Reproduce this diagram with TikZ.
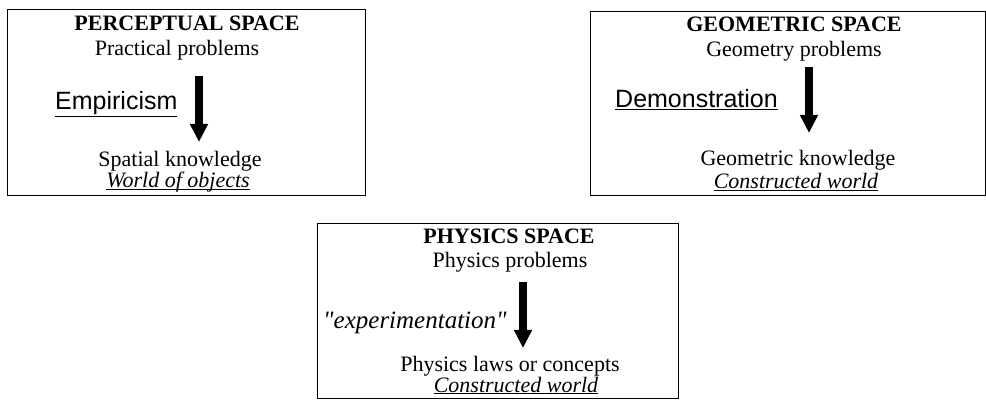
\documentclass[tikz,border=0pt]{standalone}
\usepackage{fontspec}
\setmainfont{Liberation Serif}
\newfontfamily\labelsans{Liberation Sans}
\newfontfamily\plainserif[Ligatures=TeXOff]{Liberation Serif}
\usetikzlibrary{arrows.meta}
\begin{document}
\begin{tikzpicture}[x=1pt,y=-1pt,
  box/.style={draw, line width=1.4pt, inner sep=0pt, anchor=north west},
  ttl/.style={font=\fontsize{22}{24}\selectfont\bfseries, anchor=base, inner sep=0pt},
  body/.style={font=\fontsize{22}{24}\selectfont, anchor=base, inner sep=0pt},
  lab/.style={font=\labelsans\fontsize{25}{27}\selectfont, anchor=base west, inner sep=0pt},
  itlab/.style={font=\plainserif\fontsize{25}{27}\selectfont\itshape, anchor=base west, inner sep=0pt},
  blockarrow/.style={line width=8.5pt, -{Triangle[width=17pt,length=18pt]}}]
\useasboundingbox (0,0) rectangle (986,406);
% boxes
\node[box, minimum width=358pt, minimum height=186pt] (b1) at (7,9) {};
\node[box, minimum width=395pt, minimum height=184pt] (b2) at (590,11) {};
\node[box, minimum width=361pt, minimum height=175pt] (b3) at (317,223) {};
% box 1
\node[ttl] (t1) at (187,31) {PERCEPTUAL SPACE};
\node[body] (p1) at (177,56) {Practical problems};
\node[lab] (e1) at (55,110) {\underline{Empiricism}};
\node[body] (k1) at (180,167) {Spatial knowledge};
\node[body] (w1) at (178,188) {\underline{\smash{\itshape World of objects}}};
\coordinate (a1s) at (199,76);
\coordinate (a1e) at (199,142);
\draw[blockarrow] (a1s) -- (a1e);
% box 2
\node[ttl] (t2) at (794,32) {GEOMETRIC SPACE};
\node[body] (p2) at (794,57) {Geometry problems};
\node[lab] (e2) at (615,108) {\underline{Demonstration}};
\node[body] (k2) at (798,166) {Geometric knowledge};
\node[body] (w2) at (796,189) {\underline{\itshape Constructed world}};
\coordinate (a2s) at (809,67);
\coordinate (a2e) at (809,133);
\draw[blockarrow] (a2s) -- (a2e);
% box 3
\node[ttl] (t3) at (509,244) {PHYSICS SPACE};
\node[body] (p3) at (510,268) {Physics problems};
\node[itlab] (e3) at (323,329) {"experimentation"};
\node[body] (k3) at (510,371) {Physics laws or concepts};
\node[body] (w3) at (516,392) {\underline{\itshape Constructed world}};
\coordinate (a3s) at (523,282);
\coordinate (a3e) at (523,348);
\draw[blockarrow] (a3s) -- (a3e);
\end{tikzpicture}
\end{document}
